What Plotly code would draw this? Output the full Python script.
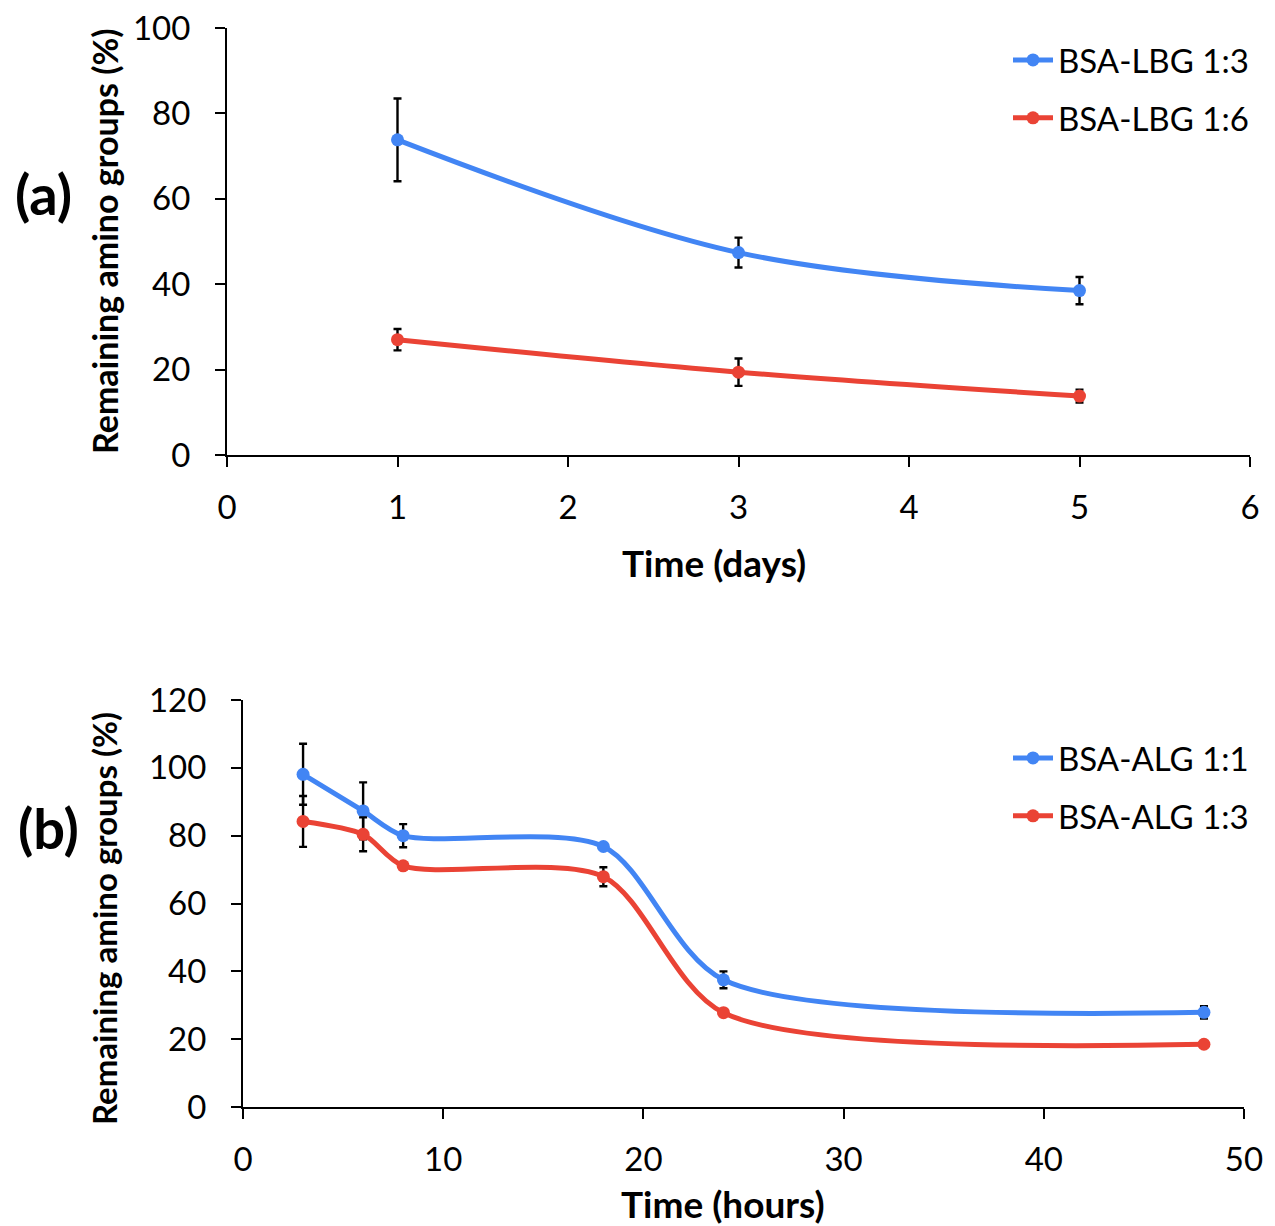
import plotly.graph_objects as go

# Panel (a)
days = [1, 3, 5]
lbg13 = [73.8, 47.4, 38.5]
lbg13_err = [9.7, 3.5, 3.2]
lbg16 = [27.0, 19.4, 13.8]
lbg16_err = [2.5, 3.2, 1.5]

# Panel (b)
hours = [3, 6, 8, 18, 24, 48]
alg11 = [98.1, 87.3, 80.0, 76.8, 37.5, 27.9]
alg11_err = [9.0, 8.4, 3.4, 1.0, 2.5, 1.8]
alg13 = [84.2, 80.4, 71.1, 67.9, 27.8, 18.5]
alg13_err = [7.5, 5.0, 1.0, 2.8, 0.5, 0.5]

BLUE = "#4285F4"
RED = "#EA4335"
FONT = "Lato, 'Open Sans', sans-serif"

fig = go.Figure()

def add(x, y, e, name, color, xa, ya, legend, smooth):
    fig.add_trace(go.Scatter(
        x=x, y=y, name=name, mode="lines+markers", legendgroup=name,
        line=dict(color=color, width=5, shape="spline", smoothing=smooth),
        marker=dict(color=color, size=13),
        error_y=dict(type="data", array=e, visible=True, color="black", thickness=2.4, width=4),
        xaxis=xa, yaxis=ya, legend=legend,
    ))

add(days, lbg13, lbg13_err, "BSA-LBG 1:3", BLUE, "x", "y", "legend", 1.0)
add(days, lbg16, lbg16_err, "BSA-LBG 1:6", RED, "x", "y", "legend", 1.0)
add(hours, alg11, alg11_err, "BSA-ALG 1:1", BLUE, "x2", "y2", "legend2", 0.8)
add(hours, alg13, alg13_err, "BSA-ALG 1:3", RED, "x2", "y2", "legend2", 0.8)

W, H = 1275, 1226
OFF = 8  # page offset of the figure


def px(x):
    return (x - OFF) / W


def py(y):
    return 1 - (y - OFF) / H


ax_common = dict(showline=True, linecolor="black", linewidth=2, ticks="outside",
                 tickcolor="black", ticklen=10, tickwidth=2, showgrid=False, zeroline=False,
                 automargin=False, ticklabeloverflow="allow",
                 tickfont=dict(size=33, color="black", family=FONT))
legend_font = dict(size=33, color="black", family=FONT)


def label(text, x, y, size, angle=0):
    return dict(text="<b>" + text + "</b>", x=px(x), y=py(y), xref="paper", yref="paper",
                showarrow=False, textangle=angle,
                font=dict(size=size, color="black", family=FONT),
                xanchor="center", yanchor="middle")


fig.update_layout(
    width=W, height=H, margin=dict(l=0, r=0, t=0, b=0, autoexpand=False),
    plot_bgcolor="white", paper_bgcolor="white",
    font=dict(family=FONT, color="black"),
    xaxis=dict(domain=[px(227), px(1250)], range=[0, 6], dtick=1, anchor="y", ticklabelstandoff=12,
               **ax_common),
    yaxis=dict(domain=[py(455), py(28)], range=[0, 100], dtick=20, anchor="x", ticklabelstandoff=18,
               **ax_common),
    xaxis2=dict(domain=[px(243), px(1244)], range=[0, 50], dtick=10, anchor="y2", ticklabelstandoff=12,
                **ax_common),
    yaxis2=dict(domain=[py(1107), py(700)], range=[0, 120], dtick=20, anchor="x2", ticklabelstandoff=18,
                **ax_common),
    legend=dict(x=px(1008), y=py(32), xanchor="left", yanchor="top",
                font=legend_font, bgcolor="rgba(0,0,0,0)",
                itemwidth=40, tracegroupgap=12),
    legend2=dict(x=px(1008), y=py(730), xanchor="left", yanchor="top",
                 font=legend_font, bgcolor="rgba(0,0,0,0)",
                 itemwidth=40, tracegroupgap=12),
    annotations=[
        label("(a)", 43, 194, 56),
        label("(b)", 48, 828, 56),
        label("Time (days)", 714, 562, 37),
        label("Time (hours)", 723, 1203, 37),
        label("Remaining amino groups (%)", 104, 241, 34, -90),
        label("Remaining amino groups (%)", 104, 918, 33, -90),
    ],
)

fig.write_html("out.html")
